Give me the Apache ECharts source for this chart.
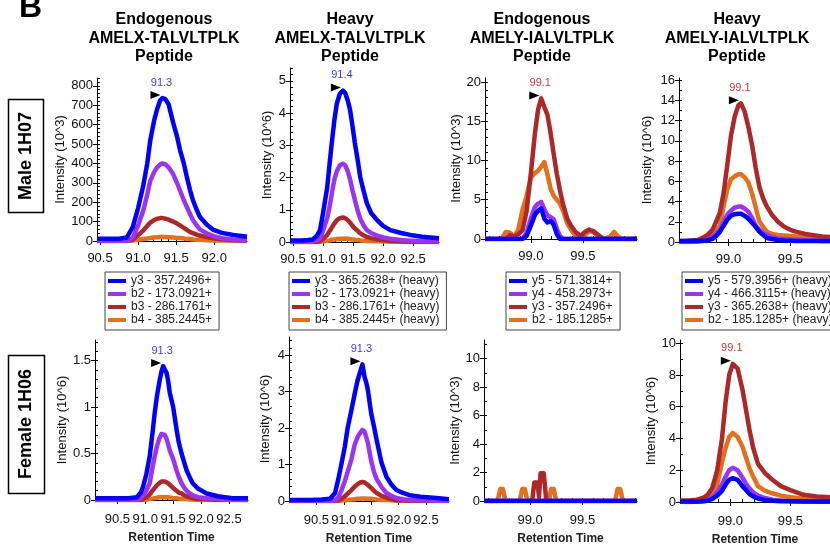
<!DOCTYPE html>
<html>
<head>
<meta charset="utf-8">
<title>AMELX / AMELY peptide chromatograms</title>
<script src="https://cdn.jsdelivr.net/npm/echarts@6/dist/echarts.min.js"></script>
<style>
html, body { margin: 0; padding: 0; background: #fff; }
#main { width: 830px; height: 545px; }
</style>
</head>
<body>
<div id="main"></div>
<script>
var fontName = '"Liberation Sans", Arial, sans-serif';
// blue, purple, red, orange (same order as the legends)
var ionColors = ['#0000ff', '#9b33f2', '#ad2828', '#e2701d'];
var blueText = '#3a3aff';
var redText = '#c03a3a';

// ion names
var amelxNames = ['y3 - 357.2496+', 'b2 - 173.0921+', 'b3 - 286.1761+', 'b4 - 385.2445+'];
var amelxHeavyNames = ['y3 - 365.2638+ (heavy)', 'b2 - 173.0921+ (heavy)', 'b3 - 286.1761+ (heavy)', 'b4 - 385.2445+ (heavy)'];
var amelyNames = ['y5 - 571.3814+', 'y4 - 458.2973+', 'y3 - 357.2496+', 'b2 - 185.1285+'];
var amelyHeavyNames = ['y5 - 579.3956+ (heavy)', 'y4 - 466.3115+ (heavy)', 'y3 - 365.2638+ (heavy)', 'b2 - 185.1285+ (heavy)'];

var titleLines = [
    ['Endogenous', 'AMELX-TALVLTPLK', 'Peptide'],
    ['Heavy', 'AMELX-TALVLTPLK', 'Peptide'],
    ['Endogenous', 'AMELY-IALVLTPLK', 'Peptide'],
    ['Heavy', 'AMELY-IALVLTPLK', 'Peptide']
];
var rowLabels = ['Male 1H07', 'Female 1H06'];

// tick labels
var ticksAmelx = [90.5, 91.0, 91.5, 92.0, 92.5];
var ticksAmely = [99.0, 99.5];
var yTicks1 = [0, 100, 200, 300, 400, 500, 600, 700, 800];
var yTicks2 = [0, 1, 2, 3, 4, 5];
var yTicks3 = [0, 5, 10, 15, 20];
var yTicks4 = [0, 2, 4, 6, 8, 10, 12, 14, 16];
var yTicks5 = [0, 0.5, 1, 1.5];
var yTicks6 = [0, 1, 2, 3, 4];
var yTicks7 = [0, 2, 4, 6, 8, 10];
var yTicks8 = [0, 2, 4, 6, 8, 10];

// Male 1H07, endogenous AMELX (10^3)
var p1Time = [90.46, 90.55, 90.65, 90.75, 90.85, 90.93, 91.0, 91.07, 91.12, 91.16, 91.21, 91.25, 91.29, 91.32, 91.36, 91.4, 91.46, 91.51, 91.55, 91.6, 91.64, 91.68, 91.72, 91.77, 91.81, 91.9, 91.99, 92.1, 92.25, 92.43];
var p1Y3 = [12, 11, 12, 12, 18, 72, 170, 290, 400, 520, 620, 680, 725, 737, 730, 705, 610, 540, 470, 400, 330, 265, 210, 160, 125, 85, 57, 42, 31, 22];
var p1B2 = [0, 0, 0, 0, 2, 15, 80, 160, 240, 310, 355, 380, 395, 400, 395, 380, 345, 300, 260, 210, 175, 140, 108, 80, 60, 40, 25, 14, 6, 3];
var p1B3 = [0, 0, 0, 0, 1, 8, 30, 55, 78, 95, 108, 115, 118, 118, 115, 110, 100, 90, 80, 68, 57, 47, 40, 33, 28, 20, 14, 9, 5, 3];
var p1B4 = [0, 0, 0, 0, 0, 2, 6, 10, 13, 16, 18, 19, 20, 20, 20, 19, 18, 16, 15, 13, 11, 10, 8, 7, 6, 4, 3, 2, 1, 0];

// Male 1H07, heavy AMELX (10^6)
var p2Time = [90.45, 90.55, 90.65, 90.75, 90.83, 90.9, 90.95, 91.0, 91.07, 91.11, 91.15, 91.19, 91.23, 91.28, 91.33, 91.37, 91.41, 91.45, 91.49, 91.53, 91.58, 91.62, 91.68, 91.73, 91.8, 91.9, 92.0, 92.12, 92.3, 92.45, 92.65, 92.93];
var p2Y3 = [0.05, 0.05, 0.05, 0.06, 0.08, 0.2, 0.37, 0.9, 1.7, 2.45, 3.15, 3.8, 4.3, 4.6, 4.7, 4.62, 4.4, 4.1, 3.6, 3.07, 2.5, 2.0, 1.55, 1.2, 0.9, 0.68, 0.5, 0.37, 0.28, 0.22, 0.16, 0.12];
var p2B2 = [0, 0, 0, 0, 0.01, 0.05, 0.12, 0.35, 0.75, 1.1, 1.55, 1.95, 2.2, 2.38, 2.43, 2.38, 2.2, 1.95, 1.6, 1.3, 0.95, 0.72, 0.5, 0.37, 0.28, 0.2, 0.14, 0.1, 0.06, 0.04, 0.02, 0.01];
var p2B3 = [0, 0, 0, 0, 0, 0.01, 0.03, 0.1, 0.22, 0.34, 0.46, 0.58, 0.68, 0.74, 0.76, 0.74, 0.68, 0.6, 0.5, 0.42, 0.34, 0.27, 0.2, 0.16, 0.12, 0.08, 0.06, 0.04, 0.02, 0.01, 0, 0];
var p2B4 = [0, 0, 0, 0, 0, 0, 0.01, 0.02, 0.04, 0.05, 0.07, 0.08, 0.09, 0.1, 0.1, 0.1, 0.1, 0.09, 0.08, 0.07, 0.06, 0.05, 0.04, 0.03, 0.03, 0.02, 0.02, 0.01, 0.01, 0, 0, 0];

// Male 1H07, endogenous AMELY (10^3)
var p3Time = [98.56, 98.65, 98.72, 98.76, 98.8, 98.84, 98.88, 98.92, 98.96, 99.0, 99.04, 99.07, 99.1, 99.13, 99.16, 99.19, 99.22, 99.25, 99.28, 99.31, 99.35, 99.39, 99.43, 99.48, 99.52, 99.56, 99.6, 99.65, 99.7, 99.76, 99.8, 99.84, 99.88, 99.95, 100.02];
var p3Y5 = [0, 0, 0, 0, 0, 0, 0, 0, 0.4, 1.7, 3.1, 3.6, 3.9, 2.6, 2.1, 2.3, 1.8, 0.6, 0, 0, 0, 0, 0, 0, 0, 0, 0, 0, 0, 0, 0, 0, 0, 0, 0];
var p3Y4 = [0, 0, 0, 0, 0, 0, 0, 0, 0.8, 2.6, 4.1, 4.5, 4.7, 3.8, 3.0, 2.8, 2.5, 1.3, 0.4, 0, 0, 0, 0, 0, 0, 0, 0, 0, 0, 0, 0, 0, 0, 0, 0];
var p3Y3 = [0, 0, 0, 0, 0.5, 0.3, 0.6, 1.1, 3.6, 8.3, 13.5, 16.5, 17.9, 16.8, 15.8, 13.5, 10.8, 8.3, 6.2, 4.4, 2.6, 1.6, 0.9, 0.4, 0.9, 1.2, 1.0, 0.5, 0, 0, 0, 0, 0, 0, 0];
var p3B2 = [0, 0, 0, 0.9, 0.8, 0.3, 1.2, 3.7, 5.5, 7.8, 8.4, 8.7, 9.2, 9.8, 8.2, 6.4, 5.5, 5.0, 4.5, 3.6, 2.0, 1.1, 0.4, 0, 0.5, 1.0, 0.9, 0.3, 0, 0.3, 0.9, 0.3, 0, 0, 0];

// Male 1H07, heavy AMELY (10^6)
var p4Time = [98.6, 98.65, 98.7, 98.75, 98.79, 98.83, 98.87, 98.9, 98.93, 98.96, 98.99, 99.02, 99.05, 99.08, 99.1, 99.13, 99.16, 99.19, 99.22, 99.25, 99.28, 99.31, 99.35, 99.4, 99.45, 99.5, 99.55, 99.62, 99.7, 99.76, 99.82];
var p4Y5 = [0.1, 0.1, 0.1, 0.1, 0.12, 0.15, 0.3, 0.6, 1.0, 1.6, 2.2, 2.6, 2.75, 2.8, 2.8, 2.6, 2.3, 1.9, 1.5, 1.0, 0.7, 0.4, 0.3, 0.2, 0.15, 0.12, 0.1, 0.1, 0.1, 0.1, 0.1];
var p4Y4 = [0, 0, 0.02, 0.05, 0.1, 0.2, 0.5, 0.8, 1.2, 1.9, 2.7, 3.1, 3.4, 3.5, 3.5, 3.3, 3.0, 2.4, 1.6, 1.2, 0.9, 0.7, 0.5, 0.35, 0.3, 0.25, 0.2, 0.2, 0.15, 0.1, 0.1];
var p4Y3 = [0.1, 0.1, 0.15, 0.2, 0.4, 0.7, 1.2, 2.0, 2.9, 4.8, 7.6, 10.5, 12.4, 13.5, 13.7, 12.9, 11.4, 9.6, 7.3, 5.4, 4.3, 3.5, 2.7, 2.0, 1.5, 1.2, 1.0, 0.8, 0.65, 0.55, 0.5];
var p4B2 = [0, 0, 0.05, 0.1, 0.2, 0.4, 0.8, 1.2, 1.6, 3.5, 5.2, 6.2, 6.5, 6.7, 6.7, 6.4, 5.9, 4.8, 3.4, 2.0, 1.5, 1.0, 0.8, 0.7, 0.65, 0.6, 0.55, 0.5, 0.45, 0.4, 0.4];

// Female 1H06, endogenous AMELX (10^6)
var p5Time = [90.1, 90.3, 90.5, 90.7, 90.85, 90.92, 90.96, 91.02, 91.08, 91.13, 91.17, 91.21, 91.25, 91.29, 91.32, 91.35, 91.38, 91.41, 91.44, 91.5, 91.56, 91.6, 91.65, 91.7, 91.74, 91.8, 91.85, 91.95, 92.1, 92.3, 92.56, 92.84];
var p5Y3 = [0.02, 0.02, 0.02, 0.02, 0.03, 0.08, 0.14, 0.28, 0.47, 0.72, 0.94, 1.12, 1.26, 1.38, 1.44, 1.4, 1.37, 1.28, 1.15, 1.0, 0.76, 0.62, 0.5, 0.4, 0.32, 0.24, 0.18, 0.12, 0.07, 0.04, 0.02, 0.02];
var p5B2 = [0, 0, 0, 0, 0, 0.02, 0.05, 0.1, 0.18, 0.35, 0.47, 0.58, 0.66, 0.71, 0.72, 0.7, 0.66, 0.6, 0.53, 0.44, 0.32, 0.25, 0.18, 0.13, 0.1, 0.07, 0.05, 0.03, 0.02, 0.01, 0, 0];
var p5B3 = [0, 0, 0, 0, 0, 0, 0.01, 0.03, 0.06, 0.1, 0.13, 0.16, 0.18, 0.2, 0.2, 0.2, 0.19, 0.18, 0.16, 0.13, 0.1, 0.08, 0.07, 0.05, 0.04, 0.03, 0.02, 0.01, 0.01, 0, 0, 0];
var p5B4 = [0, 0, 0, 0, 0, 0, 0, 0.005, 0.01, 0.015, 0.02, 0.025, 0.03, 0.03, 0.03, 0.03, 0.03, 0.03, 0.025, 0.02, 0.02, 0.015, 0.01, 0.01, 0.01, 0.005, 0.005, 0, 0, 0, 0, 0];

// Female 1H06, heavy AMELX (10^6)
var p6Time = [90.0, 90.2, 90.4, 90.6, 90.75, 90.84, 90.9, 90.96, 91.02, 91.07, 91.14, 91.2, 91.25, 91.29, 91.34, 91.38, 91.41, 91.44, 91.5, 91.55, 91.6, 91.69, 91.78, 91.87, 91.96, 92.08, 92.2, 92.4, 92.69, 92.92];
var p6Y3 = [0.03, 0.03, 0.03, 0.04, 0.06, 0.22, 0.6, 1.04, 1.5, 2.0, 2.5, 2.95, 3.3, 3.5, 3.75, 3.4, 3.25, 3.04, 2.4, 2.05, 1.67, 1.04, 0.66, 0.45, 0.3, 0.22, 0.16, 0.12, 0.08, 0.05];
var p6B2 = [0, 0, 0, 0, 0, 0.02, 0.1, 0.3, 0.55, 0.8, 1.15, 1.55, 1.75, 1.85, 1.95, 1.9, 1.75, 1.59, 1.1, 0.8, 0.6, 0.38, 0.22, 0.14, 0.08, 0.05, 0.03, 0.02, 0.01, 0];
var p6B3 = [0, 0, 0, 0, 0, 0, 0.02, 0.06, 0.13, 0.2, 0.3, 0.4, 0.46, 0.5, 0.52, 0.51, 0.48, 0.44, 0.36, 0.28, 0.22, 0.14, 0.09, 0.05, 0.03, 0.02, 0.01, 0, 0, 0];
var p6B4 = [0, 0, 0, 0, 0, 0, 0, 0.01, 0.02, 0.03, 0.04, 0.05, 0.06, 0.06, 0.07, 0.07, 0.07, 0.06, 0.06, 0.05, 0.04, 0.03, 0.03, 0.02, 0.01, 0.01, 0, 0, 0, 0];

// Female 1H06, endogenous AMELY (10^3) - only noise
var p7Time = [98.56, 98.69, 98.715, 98.74, 98.765, 98.9, 98.925, 98.95, 98.975, 99.02, 99.04, 99.07, 99.085, 99.1, 99.13, 99.155, 99.18, 99.2, 99.225, 99.25, 99.81, 99.835, 99.86, 99.885, 100.02];
var p7Y5 = [0, 0, 0, 0, 0, 0, 0, 0, 0, 0, 0, 0, 0, 0, 0, 0, 0, 0, 0, 0, 0, 0, 0, 0, 0];
var p7Y4 = [0, 0, 0, 0, 0, 0, 0, 0, 0, 0, 0, 0, 0, 0, 0, 0, 0, 0, 0, 0, 0, 0, 0, 0, 0];
var p7Y3 = [0, 0, 0, 0, 0, 0, 0, 0, 0, 0, 1.3, 1.3, 0.3, 1.95, 1.95, 0, 0, 0, 0, 0, 0, 0, 0, 0, 0];
var p7B2 = [0, 0, 0.85, 0.85, 0, 0, 0.85, 0.85, 0, 0, 0, 0, 0, 0, 0, 0, 0, 0.85, 0.85, 0, 0, 0.85, 0.85, 0, 0];

// Female 1H06, heavy AMELY (10^6)
var p8Time = [98.58, 98.65, 98.72, 98.77, 98.81, 98.85, 98.89, 98.93, 98.96, 98.99, 99.02, 99.06, 99.1, 99.13, 99.16, 99.19, 99.23, 99.29, 99.35, 99.42, 99.5, 99.61, 99.72, 99.83];
var p8Y5 = [0.03, 0.03, 0.03, 0.05, 0.08, 0.2, 0.4, 0.7, 1.1, 1.4, 1.5, 1.4, 1.0, 0.75, 0.5, 0.35, 0.22, 0.12, 0.08, 0.05, 0.04, 0.03, 0.03, 0.03];
var p8Y4 = [0, 0, 0.02, 0.05, 0.1, 0.3, 0.6, 1.1, 1.6, 2.0, 2.15, 2.0, 1.55, 1.15, 0.85, 0.6, 0.4, 0.25, 0.15, 0.1, 0.05, 0.03, 0.02, 0.02];
var p8Y3 = [0.1, 0.1, 0.15, 0.25, 0.45, 0.9, 2.0, 4.0, 6.3, 8.0, 8.7, 8.4, 7.1, 5.8, 4.5, 3.4, 2.4, 1.8, 1.4, 1.0, 0.75, 0.45, 0.35, 0.3];
var p8B2 = [0, 0, 0.05, 0.1, 0.2, 0.5, 1.1, 2.5, 3.4, 4.1, 4.35, 4.1, 3.5, 2.8, 2.1, 1.6, 1.0, 0.7, 0.55, 0.4, 0.3, 0.2, 0.15, 0.1];

var panels = [
    {time: p1Time, values: [p1Y3, p1B2, p1B3, p1B4], names: amelxNames, box: [97, 78, 150, 163], xRange: [90.46, 92.43], yRange: [0, 840], xTicks: ticksAmelx, yTicks: yTicks1, yMinor: 20, yName: 'Intensity (10^3)', nameGap: 26, peak: 0, peakText: '91.3', peakColor: blueText},
    {time: p2Time, values: [p2Y3, p2B2, p2B3, p2B4], names: amelxHeavyNames, box: [290, 68, 149, 174], xRange: [90.45, 92.93], yRange: [0, 5.4], xTicks: ticksAmelx, yTicks: yTicks2, yMinor: 0.2, yName: 'Intensity (10^6)', nameGap: 16, peak: 0, peakText: '91.4', peakColor: blueText},
    {time: p3Time, values: [p3Y5, p3Y4, p3Y3, p3B2], names: amelyNames, box: [485, 78, 152, 161], xRange: [98.56, 100.02], yRange: [0, 20.5], xTicks: ticksAmely, yTicks: yTicks3, yMinor: 1, yName: 'Intensity (10^3)', nameGap: 21, peak: 2, peakText: '99.1', peakColor: redText},
    {time: p4Time, values: [p4Y5, p4Y4, p4Y3, p4B2], names: amelyHeavyNames, box: [679, 78, 151, 164], xRange: [98.6, 99.82], yRange: [0, 16.2], xTicks: ticksAmely, yTicks: yTicks4, yMinor: 1, yName: 'Intensity (10^6)', nameGap: 25, peak: 2, peakText: '99.1', peakColor: redText},
    {time: p5Time, values: [p5Y3, p5B2, p5B3, p5B4], names: amelxNames, box: [95, 340, 153, 160], xRange: [90.1, 92.84], yRange: [0, 1.72], xTicks: ticksAmelx, yTicks: yTicks5, yMinor: 0.1, yName: 'Intensity (10^6)', nameGap: 17, peak: 0, peakText: '91.3', peakColor: blueText, bottom: true},
    {time: p6Time, values: [p6Y3, p6B2, p6B3, p6B4], names: amelxHeavyNames, box: [289, 337, 160, 164], xRange: [90.0, 92.92], yRange: [0, 4.5], xTicks: ticksAmelx, yTicks: yTicks6, yMinor: 0.2, yName: 'Intensity (10^6)', nameGap: 17, peak: 0, peakText: '91.3', peakColor: blueText, bottom: true},
    {time: p7Time, values: [p7Y5, p7Y4, p7Y3, p7B2], names: amelyNames, box: [484, 340, 153, 161], xRange: [98.56, 100.02], yRange: [0, 11.3], xTicks: ticksAmely, yTicks: yTicks7, yMinor: 1, yName: 'Intensity (10^3)', nameGap: 20, peak: -1, bottom: true},
    {time: p8Time, values: [p8Y5, p8Y4, p8Y3, p8B2], names: amelyHeavyNames, box: [680, 340, 150, 162], xRange: [98.58, 99.83], yRange: [0, 10.2], xTicks: ticksAmely, yTicks: yTicks8, yMinor: 1, yName: 'Intensity (10^6)', nameGap: 21, peak: 2, peakText: '99.1', peakColor: redText, bottom: true}
];

var legendBoxes = [[105, 272], [289, 272], [506, 272], [682, 272]];
var legendNames = [amelxNames, amelxHeavyNames, amelyNames, amelyHeavyNames];
var titleCenters = [164, 350, 542, 737];

function stepTicks(lo, hi, step) {
    var out = [];
    var k = Math.ceil(lo / step - 1e-9);
    while (k * step <= hi + 1e-9) {
        out.push(+(k * step).toFixed(4));
        k++;
    }
    return out;
}

function textEl(text, x, y, size, extra) {
    var el = {
        type: 'text', x: x, y: y, silent: true,
        style: {
            text: text, fill: '#000', fontSize: size, fontWeight: 'bold', fontFamily: fontName,
            align: 'center', verticalAlign: 'middle', textAlign: 'center', textVerticalAlign: 'middle'
        }
    };
    if (extra) { for (var key in extra) el[key] = extra[key]; }
    return el;
}

var grids = [], xAxes = [], yAxes = [], series = [];
var drawOrder = [3, 2, 1, 0]; // orange first, blue last (on top)

panels.forEach(function (p, i) {
    grids.push({left: p.box[0], top: p.box[1], width: p.box[2], height: p.box[3], containLabel: false, outerBoundsMode: 'none'});

    xAxes.push({
        gridIndex: i, type: 'value', min: p.xRange[0], max: p.xRange[1], position: 'bottom',
        axisLine: {onZero: false, lineStyle: {color: '#000', width: 1}},
        axisTick: {show: true, inside: false, length: 4, customValues: p.xTicks, lineStyle: {color: '#000'}},
        axisLabel: {customValues: p.xTicks, margin: p.bottom ? 13 : 11, fontSize: 13, color: '#111', fontFamily: fontName,
            formatter: function (v) { return v.toFixed(1); }},
        splitLine: {show: false},
        name: p.bottom ? 'Retention Time' : '', nameLocation: 'middle', nameGap: 32,
        nameTextStyle: {fontWeight: 'bold', fontSize: 12, color: '#222', fontFamily: fontName}
    });
    xAxes.push({
        gridIndex: i, type: 'value', min: p.xRange[0], max: p.xRange[1], position: 'bottom',
        axisLine: {show: false, onZero: false}, axisLabel: {show: false}, splitLine: {show: false},
        axisTick: {show: true, inside: true, length: 3, customValues: stepTicks(p.xRange[0], p.xRange[1], 0.1), lineStyle: {color: '#000'}}
    });

    yAxes.push({
        gridIndex: i, type: 'value', min: p.yRange[0], max: p.yRange[1], position: 'left',
        axisLine: {show: true, onZero: false, lineStyle: {color: '#000', width: 1}},
        axisTick: {show: true, inside: false, length: 4, customValues: p.yTicks, lineStyle: {color: '#000'}},
        axisLabel: {customValues: p.yTicks, margin: 4, fontSize: 13, color: '#111', fontFamily: fontName},
        splitLine: {show: false},
        name: p.yName, nameLocation: 'middle', nameGap: p.nameGap,
        nameTextStyle: {fontSize: 13, color: '#111', fontFamily: fontName}
    });
    yAxes.push({
        gridIndex: i, type: 'value', min: p.yRange[0], max: p.yRange[1], position: 'left',
        axisLine: {show: false, onZero: false}, axisLabel: {show: false}, splitLine: {show: false},
        axisTick: {show: true, inside: true, length: 3, customValues: stepTicks(p.yRange[0], p.yRange[1], p.yMinor), lineStyle: {color: '#000'}}
    });

    drawOrder.forEach(function (k) {
        var s = {
            name: p.names[k],
            type: 'line',
            xAxisIndex: 2 * i,
            yAxisIndex: 2 * i,
            data: p.time.map(function (t, j) { return [t, p.values[k][j]]; }),
            symbol: 'none',
            showSymbol: false,
            lineStyle: {width: 4.5, color: ionColors[k], join: 'round'},
            itemStyle: {color: ionColors[k]},
            emphasis: {disabled: true}
        };
        if (p.peak === k) {
            s.markPoint = {
                silent: true,
                symbol: 'triangle',
                symbolSize: [8, 10],
                symbolRotate: -90,
                symbolOffset: [-7, -3],
                itemStyle: {color: '#000'},
                label: {show: true, position: 'top', distance: 3, offset: [6, 0], color: p.peakColor,
                    fontSize: 11, fontFamily: fontName, formatter: p.peakText},
                data: [{type: 'max', valueDim: 'y'}]
            };
        }
        series.push(s);
    });
});

var graphics = [];
graphics.push(textEl('B', 19, 8, 32, null));
graphics[0].style.align = 'left';
graphics[0].style.textAlign = 'left';
titleLines.forEach(function (lines, i) {
    lines.forEach(function (line, r) {
        graphics.push(textEl(line, titleCenters[i], 20 + r * 18.5, 16, null));
    });
});
graphics.push({type: 'rect', shape: {x: 8.5, y: 99.5, width: 35, height: 113}, style: {fill: '#fff', stroke: '#000', lineWidth: 1.5}, silent: true});
graphics.push(textEl(rowLabels[0], 26, 156, 18, {rotation: Math.PI / 2}));
graphics.push({type: 'rect', shape: {x: 8.5, y: 355.5, width: 36, height: 138}, style: {fill: '#fff', stroke: '#000', lineWidth: 1.5}, silent: true});
graphics.push(textEl(rowLabels[1], 26.5, 424, 18, {rotation: Math.PI / 2}));

var legends = legendBoxes.map(function (pos, i) {
    return {
        left: pos[0], top: pos[1], orient: 'vertical', icon: 'rect',
        itemWidth: 18, itemHeight: 4, itemGap: 1,
        padding: [3, 7, 4, 3], borderColor: '#444', borderWidth: 1, borderRadius: 0,
        selectedMode: false,
        itemStyle: {borderWidth: 0},
        textStyle: {fontSize: 12, color: '#222', fontFamily: fontName},
        data: legendNames[i].map(function (n, k) {
            return {name: n, itemStyle: {color: ionColors[k], borderWidth: 0}};
        })
    };
});

var myChart = echarts.init(document.getElementById('main'), null, {renderer: 'canvas'});
var option = {
    backgroundColor: '#fff',
    animation: false,
    textStyle: {fontFamily: fontName},
    grid: grids,
    xAxis: xAxes,
    yAxis: yAxes,
    legend: legends,
    graphic: graphics,
    series: series
};
myChart.setOption(option);
</script>
</body>
</html>
